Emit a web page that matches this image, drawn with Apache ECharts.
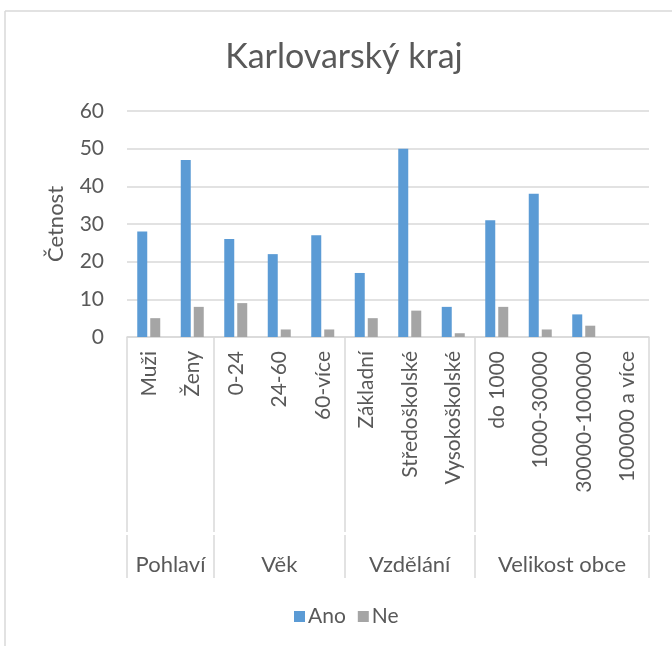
<!DOCTYPE html>
<html>
<head>
<meta charset="utf-8">
<script src="https://cdn.jsdelivr.net/npm/echarts@6/dist/echarts.min.js"></script>
<style>
  html, body { margin: 0; padding: 0; background: #fff; }
  #chart { width: 672px; height: 646px; }
</style>
</head>
<body>
<div id="chart"></div>
<script>
// categories (inner level) and their groups (outer level)
var categories = ['Muži', 'Ženy', '0-24', '24-60', '60-více', 'Základní', 'Středoškolské', 'Vysokoškolské', 'do 1000', '1000-30000', '30000-100000', '100000 a více'];
var groups = ['Pohlaví', 'Věk', 'Vzdělání', 'Velikost obce'];
var groupSizes = [2, 3, 3, 4];
var ano = [28, 47, 26, 22, 27, 17, 50, 8, 31, 38, 6, 0];
var ne = [5, 8, 9, 2, 2, 5, 7, 1, 8, 2, 3, 0];
var yTicks = [0, 10, 20, 30, 40, 50, 60];

var font = 'Lato, "Open Sans", sans-serif';
var textColor = '#595959';
var lineColor = '#d9d9d9';

// outer level axis: half-category steps, labels at group centres, ticks at group borders
var halfLabels = [];
var borders = [0];
var centres = {};
var pos = 0;
groupSizes.forEach(function (n, i) {
  centres[pos + n] = groups[i];
  pos += n * 2;
  borders.push(pos);
});
for (var k = 0; k <= categories.length * 2; k++) {
  halfLabels.push(centres[k] || '');
}

var chart = echarts.init(document.getElementById('chart'));
var option = {
  backgroundColor: '#fff',
  animation: false,
  title: {
    text: 'Karlovarský kraj',
    left: 339,
    top: 35,
    textAlign: 'center',
    textStyle: { color: textColor, fontFamily: font, fontWeight: 'normal', fontSize: 34 }
  },
  legend: {
    data: ['Ano', 'Ne'],
    top: 601,
    left: 289,
    icon: 'rect',
    itemWidth: 11,
    itemHeight: 11,
    itemGap: 12,
    textStyle: { color: textColor, fontFamily: font, fontSize: 21, padding: [0, 0, 0, -2] }
  },
  grid: { left: 127, right: 23, top: 111, bottom: 309 },
  xAxis: [{
    type: 'category',
    data: categories,
    axisLine: { lineStyle: { color: lineColor, width: 1.5 } },
    axisTick: { show: false },
    axisLabel: { rotate: 90, interval: 0, margin: 14, color: textColor, fontFamily: font, fontSize: 21 }
  }, {
    type: 'category',
    position: 'bottom',
    boundaryGap: false,
    data: halfLabels,
    axisLine: { show: false },
    axisTick: {
      show: true,
      length: 241,
      interval: function (index) { return borders.indexOf(index) >= 0; },
      lineStyle: { color: lineColor, width: 1.5 }
    },
    axisLabel: { interval: 0, margin: 217, color: textColor, fontFamily: font, fontSize: 22 }
  }],
  yAxis: {
    type: 'value',
    min: 0,
    max: 60,
    interval: 10,
    name: 'Četnost',
    nameLocation: 'middle',
    nameRotate: 90,
    nameGap: 60,
    nameTextStyle: { color: textColor, fontFamily: font, fontSize: 22 },
    axisLine: { show: false },
    axisTick: { show: false },
    axisLabel: {
      margin: 23, color: textColor, fontFamily: font, fontSize: 21,
      formatter: function (v) { return yTicks.indexOf(v) >= 0 ? String(v) : ''; }
    },
    splitLine: { lineStyle: { color: lineColor, width: 1.5 } }
  },
  series: [{
    name: 'Ano',
    type: 'bar',
    data: ano,
    itemStyle: { color: '#5b9bd5' },
    barWidth: 10,
    barGap: '30%'
  }, {
    name: 'Ne',
    type: 'bar',
    data: ne,
    itemStyle: { color: '#a5a5a5' },
    barWidth: 10,
    barGap: '30%'
  }],
  graphic: [
    // chart frame, top and left edges
    { type: 'line', shape: { x1: 5, y1: 11, x2: 672, y2: 11 }, style: { stroke: lineColor, lineWidth: 1.5 } },
    { type: 'line', shape: { x1: 5, y1: 11, x2: 5, y2: 646 }, style: { stroke: lineColor, lineWidth: 1.5 } },
    // break between the two label levels
    { type: 'rect', shape: { x: 120, y: 532, width: 540, height: 3 }, style: { fill: '#fff' }, z: 10 }
  ]
};
chart.setOption(option);
</script>
</body>
</html>
